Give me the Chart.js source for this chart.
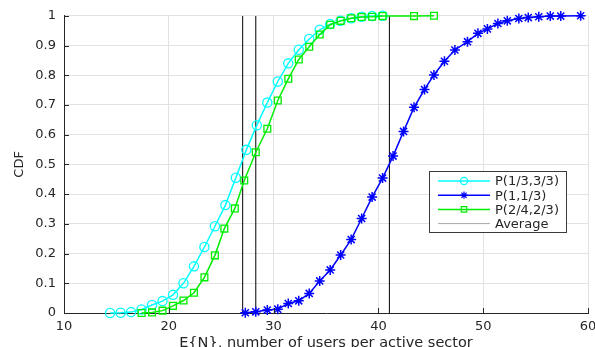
<!DOCTYPE html>
<html>
<head>
<meta charset="utf-8">
<script src="https://cdn.jsdelivr.net/npm/chart.js@4.4.0/dist/chart.umd.min.js"></script>
<style>
  html, body { margin: 0; padding: 0; background: #ffffff; }
  #wrap { width: 595px; height: 347px; }
</style>
</head>
<body>
<div id="wrap"><canvas id="c" width="595" height="347"></canvas></div>
<script>
// ---- data ----
const cyanX = [14.4,15.4,16.4,17.4,18.4,19.4,20.4,21.4,22.4,23.4,24.4,25.4,26.4,27.4,28.4,29.4,30.4,31.4,32.4,33.4,34.4,35.4,36.4,37.4,38.4,39.4,40.4];
const cyanY = [0.0,0.001,0.003,0.012,0.027,0.040,0.061,0.100,0.157,0.222,0.292,0.363,0.455,0.549,0.632,0.708,0.779,0.840,0.886,0.922,0.953,0.972,0.983,0.992,0.997,0.999,1.0];

const blueX = [27.3,28.3,29.4,30.4,31.4,32.4,33.4,34.4,35.4,36.4,37.4,38.4,39.4,40.4,41.4,42.4,43.4,44.4,45.3,46.3,47.3,48.5,49.5,50.4,51.4,52.3,53.4,54.3,55.3,56.4,57.4,59.3];
const blueY = [0.001,0.004,0.010,0.013,0.032,0.041,0.066,0.108,0.145,0.195,0.247,0.318,0.390,0.454,0.528,0.611,0.692,0.752,0.801,0.847,0.885,0.913,0.941,0.956,0.974,0.983,0.991,0.994,0.997,0.999,0.999,1.0];

const greenX = [17.4,18.4,19.4,20.4,21.4,22.4,23.4,24.4,25.3,26.3,27.2,28.3,29.4,30.4,31.4,32.4,33.4,34.4,35.4,36.4,37.4,38.4,39.4,40.4,43.4,45.3];
const greenY = [0.0,0.002,0.008,0.024,0.042,0.068,0.120,0.194,0.284,0.352,0.446,0.541,0.620,0.715,0.788,0.853,0.896,0.937,0.970,0.983,0.992,0.996,0.997,0.999,0.999,1.0];

const averages = [27.05, 28.3, 41.05];

const seriesLabels = ['P(1/3,3/3)', 'P(1,1/3)', 'P(2/4,2/3)', 'Average'];
const xTicks = [10, 20, 30, 40, 50, 60];
const yTicks = [0, 0.1, 0.2, 0.3, 0.4, 0.5, 0.6, 0.7, 0.8, 0.9, 1];

// ---- build ----
const zip = (xs, ys) => xs.map((x, i) => ({ x: x, y: ys[i] }));
const avgPoints = [];
averages.forEach(a => { avgPoints.push({ x: a, y: 0 }, { x: a, y: 1 }, { x: a, y: null }); });

const TXT = '#262626';
const FONT = '"DejaVu Sans", Arial, Helvetica, sans-serif';

function marker(ctx, style, x, y, r) {
  ctx.beginPath();
  if (style === 'circle') {
    ctx.arc(x, y, r, 0, Math.PI * 2);
  } else if (style === 'rect') {
    const s = r * 0.75;
    ctx.rect(x - s, y - s, 2 * s, 2 * s);
  } else if (style === 'star') {
    for (let k = 0; k < 4; k++) {
      const a = k * Math.PI / 4;
      ctx.moveTo(x - r * Math.cos(a), y - r * Math.sin(a));
      ctx.lineTo(x + r * Math.cos(a), y + r * Math.sin(a));
    }
  }
  ctx.stroke();
}

const boxLegend = {
  id: 'boxLegend',
  afterDraw(chart) {
    const ctx = chart.ctx;
    const x0 = 429, y0 = 171, w = 137, h = 61;
    ctx.save();
    ctx.fillStyle = '#ffffff';
    ctx.fillRect(x0, y0, w, h);
    ctx.strokeStyle = '#3a3a3a';
    ctx.lineWidth = 1;
    ctx.strokeRect(x0 + 0.5, y0 + 0.5, w, h);
    ctx.font = '13px ' + FONT;
    ctx.textBaseline = 'middle';
    ctx.textAlign = 'left';
    chart.data.datasets.forEach((ds, i) => {
      const y = y0 + 10 + i * 14.2;
      const col = ds.legendColor || ds.borderColor;
      ctx.strokeStyle = col;
      ctx.lineWidth = ds.legendColor ? 1 : 1.5;
      ctx.beginPath();
      ctx.moveTo(x0 + 9, y);
      ctx.lineTo(x0 + 61, y);
      ctx.stroke();
      if (ds.pointStyle && ds.pointRadius > 0) {
        ctx.lineWidth = 1.2;
        marker(ctx, ds.pointStyle, x0 + 35, y, 3.6);
      }
      ctx.fillStyle = TXT;
      ctx.fillText(ds.label, x0 + 66, y + 1);
    });
    ctx.restore();
  }
};

const inTicks = {
  id: 'inTicks',
  afterDatasetsDraw(chart) {
    const ctx = chart.ctx;
    const xs = chart.scales.x, ys = chart.scales.y;
    const a = chart.chartArea;
    ctx.save();
    ctx.strokeStyle = TXT;
    ctx.lineWidth = 1;
    ctx.beginPath();
    yTicks.forEach(v => {
      const p = Math.round(ys.getPixelForValue(v)) + 0.5;
      ctx.moveTo(a.left, p); ctx.lineTo(a.left + 5, p);
    });
    xTicks.forEach(v => {
      const p = Math.round(xs.getPixelForValue(v)) + 0.5;
      ctx.moveTo(p, a.bottom); ctx.lineTo(p, a.bottom - 5);
    });
    ctx.stroke();
    ctx.restore();
  }
};

new Chart(document.getElementById('c'), {
  type: 'scatter',
  data: {
    datasets: [
      { label: seriesLabels[0], data: zip(cyanX, cyanY), showLine: true, borderColor: '#00ffff', backgroundColor: 'rgba(0,0,0,0)',
        borderWidth: 1.5, pointStyle: 'circle', pointRadius: 4.6, pointBorderWidth: 1.3, pointBorderColor: '#00ffff', pointBackgroundColor: 'rgba(0,0,0,0)', clip: false, order: 2 },
      { label: seriesLabels[1], data: zip(blueX, blueY), showLine: true, borderColor: '#0000ff', backgroundColor: 'rgba(0,0,0,0)',
        borderWidth: 1.5, pointStyle: 'star', pointRadius: 5, pointBorderWidth: 1.5, pointBorderColor: '#0000ff', pointBackgroundColor: 'rgba(0,0,0,0)', clip: false, order: 1 },
      { label: seriesLabels[2], data: zip(greenX, greenY), showLine: true, borderColor: '#00ee00', backgroundColor: 'rgba(0,0,0,0)',
        borderWidth: 1.5, pointStyle: 'rect', pointRadius: 4.8, pointBorderWidth: 1.3, pointBorderColor: '#00ee00', pointBackgroundColor: 'rgba(0,0,0,0)', clip: false, order: 0 },
      { label: seriesLabels[3], data: avgPoints, showLine: true, spanGaps: false, borderColor: '#000000', legendColor: '#a8a8a8',
        borderWidth: 1, pointRadius: 0, pointHoverRadius: 0, order: 3 }
    ]
  },
  options: {
    responsive: false,
    animation: false,
    devicePixelRatio: 1,
    events: [],
    layout: { padding: { top: 15, right: 2, left: 0, bottom: 0 } },
    plugins: { legend: { display: false }, tooltip: { enabled: false } },
    scales: {
      x: {
        type: 'linear', min: 10, max: 60,
        afterBuildTicks: s => { s.ticks = xTicks.map(v => ({ value: v })); },
        afterFit: s => { s.height = 34; s.paddingRight = 7; s.paddingLeft = 0; },
        grid: { color: '#e2e2e2', lineWidth: 1, drawTicks: false },
        border: { display: true, color: TXT, width: 1 },
        ticks: { color: TXT, padding: 6, font: { family: FONT, size: 13 }, maxRotation: 0,
                 callback: v => String(v) },
        title: { display: true, text: 'E{N}, number of users per active sector', color: TXT,
                 font: { family: FONT, size: 14.5 }, padding: { top: 0, bottom: -5 } }
      },
      y: {
        type: 'linear', min: 0, max: 1,
        afterBuildTicks: s => { s.ticks = yTicks.map(v => ({ value: v })); },
        afterFit: s => { s.width = 64; },
        grid: { color: '#e2e2e2', lineWidth: 1, drawTicks: false },
        border: { display: true, color: TXT, width: 1 },
        ticks: { color: TXT, padding: 8, font: { family: FONT, size: 13 },
                 callback: v => String(Math.round(v * 10) / 10) },
        title: { display: true, text: 'CDF', color: TXT, font: { family: FONT, size: 13 }, padding: { top: 12, bottom: 0 } }
      }
    }
  },
  plugins: [inTicks, boxLegend]
});
</script>
</body>
</html>
